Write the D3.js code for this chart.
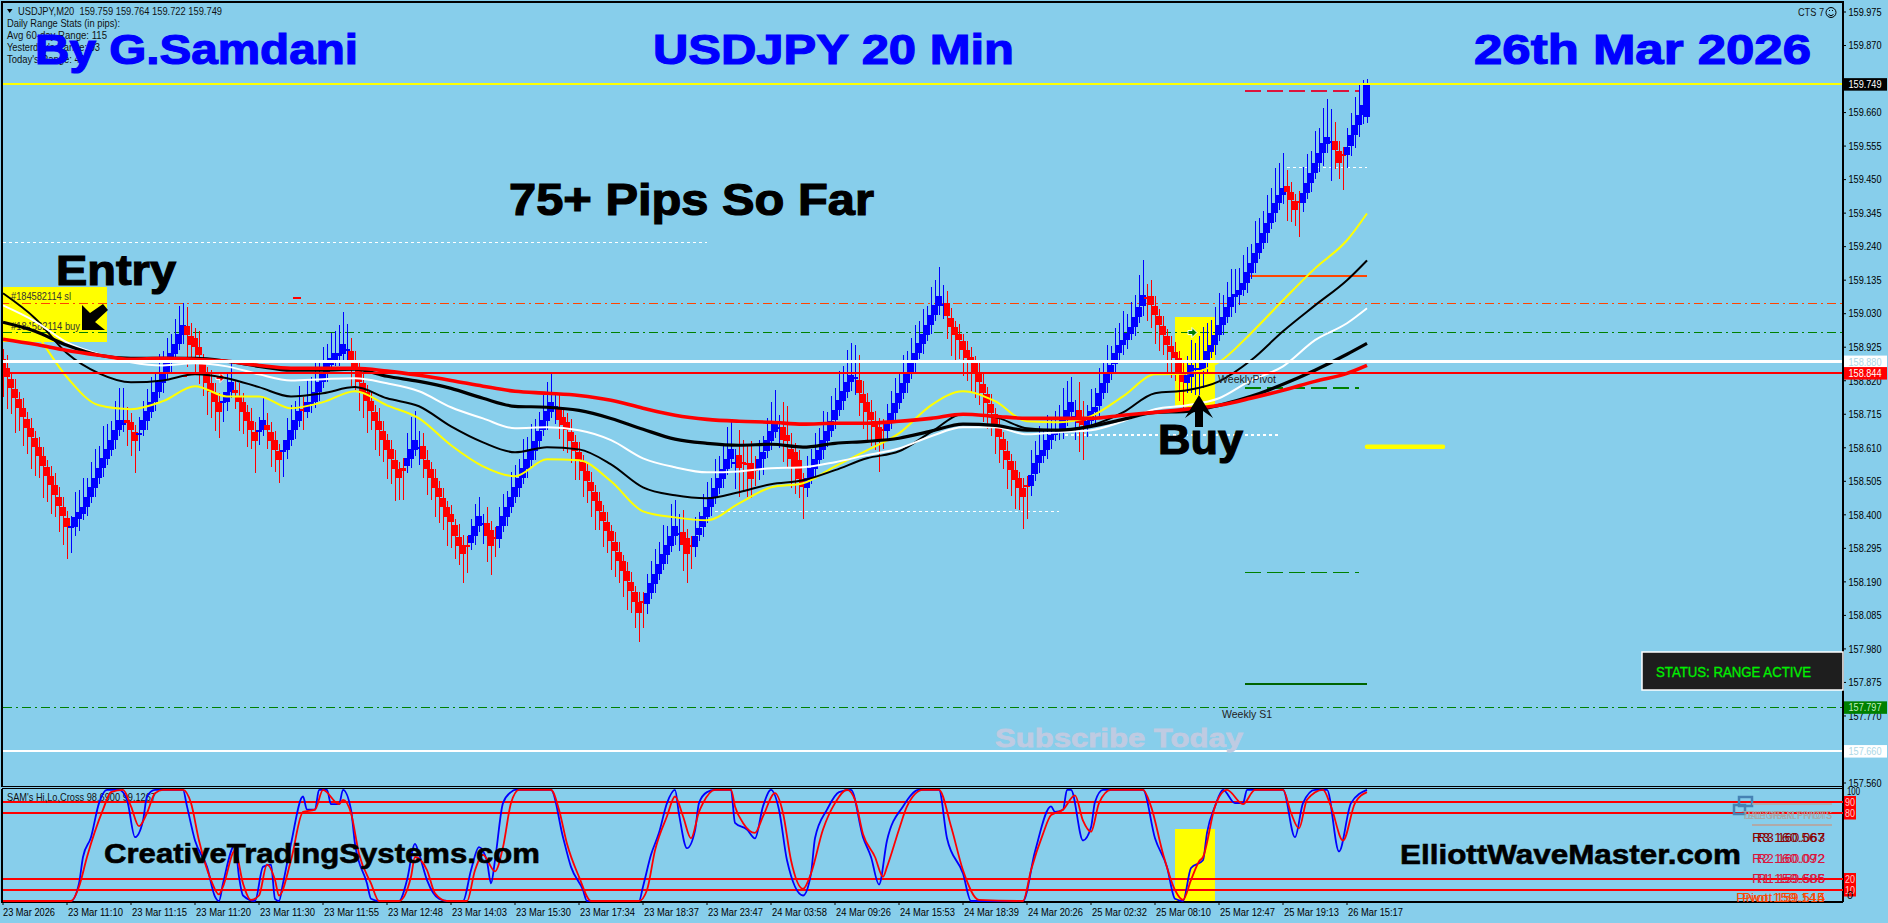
<!DOCTYPE html>
<html><head><meta charset="utf-8">
<style>html,body{margin:0;padding:0;background:#87CEEB;overflow:hidden}svg{display:block}text{font-family:"Liberation Sans",Arial,sans-serif}</style>
<script src="https://cdn.jsdelivr.net/npm/d3@7"></script>
</head><body>
<script>
// ---------- data ----------
const closes=[
158.859,158.831,158.797,158.765,158.734,158.706,158.671,158.643,158.612,158.584,
158.553,158.521,158.493,158.462,158.427,158.396,158.361,158.365,158.393,158.408,
158.424,158.455,158.487,158.515,158.546,158.577,158.606,158.634,158.665,158.696,
158.696,158.687,158.665,158.631,158.656,158.696,158.725,158.753,158.784,158.815,
158.843,158.875,158.906,158.934,158.965,158.994,158.962,158.931,158.925,158.900,
158.843,158.812,158.784,158.753,158.722,158.756,158.784,158.815,158.781,158.753,
158.722,158.693,158.665,158.631,158.665,158.696,158.665,158.631,158.603,158.571,
158.603,158.634,158.665,158.696,158.725,158.725,158.753,158.753,158.784,158.815,
158.847,158.875,158.890,158.906,158.906,158.934,158.918,158.884,158.862,158.815,
158.784,158.756,158.725,158.693,158.665,158.634,158.603,158.575,158.543,158.515,
158.537,158.577,158.606,158.634,158.612,158.575,158.543,158.515,158.484,158.455,
158.424,158.393,158.377,158.333,158.302,158.277,158.299,158.336,158.365,158.396,
158.374,158.333,158.302,158.327,158.365,158.396,158.424,158.455,158.487,158.515,
158.546,158.575,158.603,158.631,158.662,158.696,158.725,158.753,158.740,158.696,
158.681,158.665,158.631,158.599,158.568,158.537,158.506,158.474,158.443,158.412,
158.380,158.349,158.318,158.286,158.255,158.224,158.193,158.161,158.127,158.092,
158.124,158.155,158.186,158.214,158.246,158.277,158.305,158.333,158.365,158.343,
158.305,158.277,158.299,158.333,158.358,158.396,158.424,158.455,158.484,158.515,
158.543,158.575,158.606,158.565,158.546,158.559,158.556,158.512,158.540,158.575,
158.596,158.634,158.662,158.690,158.674,158.634,158.631,158.575,158.546,158.512,
158.487,158.515,158.546,158.575,158.603,158.634,158.662,158.693,158.728,158.759,
158.787,158.815,158.837,158.831,158.781,158.750,158.722,158.696,158.674,158.634,
158.665,158.687,158.718,158.750,158.781,158.812,158.843,158.875,158.906,158.937,
158.965,158.994,159.025,159.056,159.085,159.059,159.022,158.987,158.962,158.947,
158.915,158.890,158.875,158.847,158.815,158.781,158.750,158.718,158.681,158.643,
158.603,158.571,158.540,158.509,158.484,158.455,158.487,158.524,158.562,158.587,
158.603,158.634,158.650,158.656,158.665,158.696,158.728,158.753,158.709,158.687,
158.681,158.693,158.725,158.737,158.781,158.812,158.843,158.868,158.906,158.931,
158.947,158.969,158.987,159.019,159.050,159.088,159.078,159.056,159.025,158.994,
158.962,158.931,158.909,158.890,158.847,158.815,158.837,158.868,158.859,158.859,
158.878,158.912,158.931,158.962,158.994,159.019,159.050,159.081,159.091,159.103,
159.125,159.160,159.188,159.219,159.251,159.282,159.313,159.344,159.376,159.401,
159.423,159.411,159.386,159.354,159.379,159.408,159.439,159.470,159.501,159.533,
159.564,159.583,159.570,159.542,159.501,159.526,159.552,159.589,159.620,159.652,
159.683,159.746];
const bodyPips=[
-3,-3,-3,-3,-3,-3,-3,-3,-3,-3,
-3,-3,-3,-3,-3,-3,-3,.5,3,2,
2,3,3,3,3,3,3,3,3,3,
1.5,-1,-2.5,-3,.5,3,3,3,3,3,
3,3,3,3,3,3,-3,-3,-3,-2.5,
-3,-3,-3,-3,-3,.5,3,3,-1,-2,
-3,-3,-3,-3,.5,3,-1.5,-3,-3,-3,
.5,3,3,3,3,-.5,3,.5,3,3,
3,3,2,2,1,3,.5,-3,-2,-4,
-3,-3,-3,-3,-3,-3,-3,-3,-3,-3,
-1,2.5,3,3,.5,-4,-3,-3,-3,-3,
-3,-3,-2.5,-3.5,-3,-3,-.5,2.5,3,3,
.5,-4,-5,-.5,4,3,3,3,3,3,
3,3,3,3,3,3,3,3,.5,-3.5,
-2.5,-2.5,-3,-3,-3,-3,-3,-3,-3,-3,
-3,-3,-3,-3,-3,-3,-3,-3,-3,-3.5,
-.5,3.5,3,3,3,3,3,3,3,.5,
-4,-5,-.5,3.5,2,3.5,3,3,3,3,
3,3,3,.5,-4,-.5,-.5,-5,-.5,3.5,
2,3.5,3,3,.5,-4,-2,-3,-5,-6,
-2.5,3,3,3,3,3,3,3,3,3,
3,3,2,.5,-4,-3,-3,-2.5,-2,-4,
-.5,2.5,3,3,3,3,3,3,3,3,
3,3,3,3,3,.5,-4,-3,-2.5,-2,
-3,-2.5,-2,-3,-3,-3,-3,-3,-3.5,-3.5,
-3.5,-3,-3,-3,-3,-3,-.5,3.5,3.5,2.5,
2,3,1.5,.5,1,3,3,3,.5,-4,
-1.5,2,3,1.5,4,3,3,2.5,3.5,2.5,
1.5,2,2,3,3,3.5,-.5,-3,-3,-3,
-3,-3,-2,-2,-4.5,-3,2.5,3.5,.5,.5,
2,3.5,2,3,3,2.5,3,3,1,1.5,
2,3.5,3,3,3,3,3,3,3,2.5,
2,-2,-2.5,-3,-.5,3,3,3,3,3,
3,2,.5,-3,-4,-.5,2.5,3.5,3,3,
3,10];
const wickUpPips=[
3,4,2,3,2,3,2,3,2,3,
3,2,3,4,3,3,2,3,8,7,
9,6,8,9,7,10,8,6,9,10,
10,4,3,2,5,6,7,8,6,9,
7,8,6,8,9,7,6,4,3,5,
3,2,4,3,3,3,6,7,3,4,
3,2,4,3,4,7,4,3,3,2,
3,7,8,6,8,4,7,8,9,7,
8,6,8,7,9,10,8,4,3,2,
3,2,3,2,4,3,2,3,3,2,
3,8,10,9,5,4,3,2,3,2,
3,2,3,2,4,3,3,5,7,6,
3,5,3,3,6,7,5,8,7,6,
9,7,8,7,6,8,9,9,4,5,
3,3,4,2,3,2,3,3,2,3,
2,3,2,3,3,2,3,3,2,3,
3,6,7,8,7,9,6,10,8,6,
7,3,3,6,5,7,8,6,9,7,
8,10,9,4,8,7,6,7,4,6,
5,7,9,10,4,8,9,5,3,3,
2,7,6,8,7,9,6,8,7,9,
8,10,10,10,8,4,3,4,3,3,
3,6,7,8,6,9,7,8,9,7,
8,6,9,8,9,6,4,3,2,3,
2,3,3,2,4,3,2,3,2,3,
2,3,2,3,2,3,3,8,7,9,
6,8,5,7,8,10,9,8,5,9,
6,5,7,6,8,7,9,6,8,7,
9,6,8,7,10,11,4,5,3,2,
3,2,3,3,2,3,6,8,8,10,
11,9,8,9,10,7,8,9,8,7,
9,8,6,10,8,7,9,8,11,10,
11,5,3,2,3,8,9,7,10,8,
11,12,10,6,3,2,6,7,9,10,
8,2];
const wickDownPips=[
9,10,8,11,7,9,8,10,9,7,
10,8,9,7,8,9,10,8,3,4,
2,3,2,3,2,3,2,2,3,2,
2,7,8,10,5,2,3,2,3,2,
3,2,3,3,2,3,10,6,8,9,
7,10,8,9,8,6,3,2,5,9,
7,8,6,10,4,2,6,8,7,7,
8,3,2,3,2,6,2,3,2,3,
2,3,2,2,3,2,3,8,7,9,
8,10,6,9,8,7,9,8,10,7,
9,2,3,2,5,6,8,7,9,8,
7,9,8,7,6,9,8,2,3,2,
6,8,9,6,3,2,3,2,2,3,
2,3,2,3,2,2,3,2,5,6,
8,7,7,9,6,8,7,8,9,6,
8,7,9,8,7,8,9,7,8,9,
8,3,2,3,2,2,3,2,3,5,
8,9,7,3,2,3,2,3,2,2,
3,2,3,8,9,8,10,6,5,3,
5,2,3,2,6,7,8,9,8,6,
10,3,2,3,2,3,2,2,3,2,
3,2,3,5,7,8,9,8,7,10,
6,3,2,3,2,2,3,2,3,2,
3,2,3,2,3,4,7,9,8,6,
8,7,9,8,7,9,8,7,9,8,
6,9,8,9,7,10,10,3,2,3,
2,3,3,2,2,3,2,2,7,9,
11,3,2,4,3,2,3,2,3,2,
3,3,2,3,2,3,7,7,9,8,
6,9,8,7,9,8,3,5,8,8,
6,3,2,3,2,3,2,3,5,3,
2,3,2,3,2,2,3,2,3,2,
3,9,7,5,11,3,2,3,2,3,
4,3,12,6,5,11,4,3,4,4,
3,2];

const maBars=[0,8,16,24,32,40,48,56,64,72,80,88,96,104,112,120,128,136,144,152,160,168,176,184,192,200,208,216,224,232,240,248,256,264,272,280,288,296,304,312,320,328,336,341];
const maYellow=[159.088,158.972,158.831,158.743,158.731,158.756,158.803,158.771,158.771,158.734,158.753,158.787,158.743,158.702,158.618,158.552,158.521,158.574,158.571,158.505,158.411,158.392,158.383,158.436,158.486,158.499,158.552,158.602,158.655,158.743,158.787,158.756,158.693,158.690,158.709,158.771,158.840,158.843,158.878,158.969,159.072,159.172,159.260,159.344];
const maBlackThin=[159.094,159.016,158.906,158.843,158.815,158.821,158.840,158.828,158.800,158.771,158.781,158.800,158.765,158.740,158.677,158.627,158.596,158.612,158.605,158.558,158.486,158.461,158.452,158.471,158.496,158.508,158.540,158.577,158.599,158.659,158.715,158.706,158.671,158.665,158.680,158.721,158.781,158.790,158.818,158.884,158.975,159.056,159.135,159.197];
const maWhite=[159.056,159.006,158.940,158.903,158.878,158.868,158.875,158.865,158.840,158.821,158.825,158.828,158.812,158.787,158.737,158.702,158.671,158.674,158.665,158.634,158.577,158.549,158.533,158.536,158.546,158.549,158.565,158.587,158.608,158.646,158.674,158.674,158.652,158.659,158.665,158.693,158.731,158.743,158.765,158.821,158.865,158.947,159.000,159.047];
const maBlackThick=[159.003,158.975,158.931,158.900,158.890,158.890,158.890,158.881,158.865,158.853,158.853,158.856,158.834,158.818,158.796,158.765,158.740,158.737,158.727,158.702,158.668,158.637,158.624,158.618,158.621,158.612,158.624,158.630,158.640,158.662,158.684,158.680,158.665,158.665,158.677,158.699,158.721,158.724,158.743,158.771,158.809,158.853,158.903,158.937];
const maRed=[158.950,158.934,158.915,158.900,158.887,158.890,158.887,158.881,158.868,158.859,158.859,158.859,158.850,158.837,158.821,158.803,158.787,158.781,158.774,158.759,158.734,158.712,158.699,158.693,158.690,158.684,158.687,158.687,158.693,158.702,158.715,158.709,158.702,158.702,158.702,158.712,158.721,158.731,158.743,158.765,158.790,158.818,158.843,158.868];

const stochBlue=[[0,0],[17,0],[19,16],[20,40],[22,58],[24,89],[26,101],[29,101],[31,92],[33,58],[35,73],[36,95],[38,101],[45,101],[46,86],[48,55],[51,31],[53,4],[54,0],[55,16],[58,51],[59,22],[60,5],[63,0],[65,31],[67,33],[68,2],[69,0],[70,16],[72,52],[75,95],[76,83],[78,83],[79,101],[81,101],[82,88],[84,88],[85,101],[87,83],[88,52],[91,16],[92,2],[94,0],[99,0],[101,19],[103,52],[104,43],[106,19],[109,2],[111,0],[115,0],[117,28],[119,49],[121,36],[122,16],[123,37],[125,89],[127,99],[128,101],[137,101],[140,58],[142,31],[145,10],[146,0],[159,0],[160,13],[162,42],[164,62],[166,89],[168,101],[169,79],[171,48],[173,64],[174,89],[176,99],[178,101],[182,101],[183,71],[186,65],[188,57],[190,86],[192,101],[194,83],[196,37],[200,5],[202,25],[203,57],[206,83],[209,99],[212,101],[215,58],[217,40],[219,15],[221,55],[225,86],[229,101],[234,101],[236,57],[240,25],[242,0],[255,0],[258,45],[262,86],[263,81],[265,83],[266,101],[267,101],[270,55],[272,67],[273,90],[275,101],[285,101],[288,57],[291,31],[293,2],[295,0],[297,30],[300,37],[301,62],[303,86],[305,101],[308,89],[310,89],[311,101],[320,101],[323,58],[325,89],[328,101],[331,101],[334,45],[337,89],[341,101]];
const stochRed=[[0,0],[17,0],[19,13],[21,40],[25,83],[27,99],[30,101],[32,86],[34,68],[36,80],[38,98],[40,101],[45,101],[47,89],[49,55],[52,19],[54,6],[55,13],[58,46],[60,16],[62,1],[64,5],[66,33],[68,19],[69,5],[72,37],[75,81],[78,83],[80,101],[84,88],[85,92],[87,80],[89,43],[92,16],[94,0],[99,0],[102,22],[103,40],[106,28],[108,7],[111,0],[116,0],[118,28],[120,42],[123,27],[125,49],[127,89],[129,101],[137,101],[139,83],[141,52],[144,22],[147,0],[159,0],[161,10],[163,46],[166,77],[168,95],[170,77],[172,57],[174,81],[175,89],[178,101],[182,101],[183,86],[185,71],[188,62],[190,77],[193,98],[195,80],[197,37],[200,11],[202,25],[205,65],[208,89],[211,101],[213,92],[215,61],[218,40],[220,22],[221,31],[224,65],[226,86],[230,101],[234,101],[237,68],[240,28],[244,1],[255,0],[257,28],[260,61],[262,78],[265,83],[268,96],[270,73],[272,63],[274,89],[277,101],[285,101],[287,86],[290,43],[293,10],[295,1],[297,19],[299,36],[300,40],[303,86],[306,101],[310,88],[313,101],[320,101],[322,80],[324,66],[326,92],[330,101],[332,86],[335,55],[338,89],[341,99]];
const stochLevels=[90,80,20,10];

const priceTicks=[159.975,159.870,159.660,159.555,159.450,159.345,159.240,159.135,159.030,158.925,158.820,158.715,158.610,158.505,158.400,158.295,158.190,158.085,157.980,157.875,157.770,157.560];
const timeLabels=["23 Mar 2026","23 Mar 11:10","23 Mar 11:15","23 Mar 11:20","23 Mar 11:30","23 Mar 11:55","23 Mar 12:48","23 Mar 14:03","23 Mar 15:30","23 Mar 17:34","23 Mar 18:37","23 Mar 23:47","24 Mar 03:58","24 Mar 09:26","24 Mar 15:53","24 Mar 18:39","24 Mar 20:26","25 Mar 02:32","25 Mar 08:10","25 Mar 12:47","25 Mar 19:13","26 Mar 15:17"];
const barsPerTick=16;

const bid=159.749, resistWhite=158.880, bidRed=158.844, slLevel=159.062, buyLevel=158.971, s1Level=157.797, lowWhite=157.660;

// ---------- layout ----------
const W=1888,H=923,LEFT=2,RIGHT=1843,TOP=2,MAIN_B=786.5,SUB_T=788.7,SUB_B=902;
const BG="#87CEEB";
const x=d3.scaleLinear().domain([0,341]).range([3,1367]);
const y=d3.scaleLinear().domain([157.560,159.975]).range([783,12]);
const ys=d3.scaleLinear().domain([0,100]).range([901,791]);
const svg=d3.select("body").append("svg").attr("width",W).attr("height",H).attr("viewBox",`0 0 ${W} ${H}`);
svg.append("rect").attr("width",W).attr("height",H).attr("fill",BG);
svg.append("clipPath").attr("id","plot").append("rect").attr("x",3).attr("y",3).attr("width",RIGHT-3).attr("height",MAIN_B-3);

function T(str,px,base,len,o={}){
  const t=svg.append("text").attr("x",px).attr("y",base).text(str)
    .attr("font-size",o.size||11).attr("font-weight",o.weight||"normal").attr("fill",o.fill||"#000");
  if(len) t.attr("textLength",len).attr("lengthAdjust","spacingAndGlyphs");
  if(o.stroke) t.attr("stroke",o.fill||"#000").attr("stroke-width",o.stroke);
  return t;
}
function box(a,b,c,d,fill){svg.append("rect").attr("x",a).attr("y",b).attr("width",c-a).attr("height",d-b).attr("fill",fill);}
function hseg(price,i0,i1,color,w,dash){
  const l=svg.append("line").attr("x1",x(i0)).attr("x2",i1===null?RIGHT:x(i1)).attr("y1",y(price)).attr("y2",y(price))
    .attr("stroke",color).attr("stroke-width",w).attr("shape-rendering","crispEdges");
  if(dash) l.attr("stroke-dasharray",dash);
  return l;
}

// yellow highlight zones
box(3,287,107,342,"#FFFF00");
box(1175,317,1215,407,"#FFFF00");
box(1175,829,1215,901,"#FFFF00");

// trade labels under the lines
T("#184582114 sl",11,300,60,{fill:"#333",size:11});
T("#184582114 buy",11,330,69,{fill:"#333",size:11});

// horizontal price levels
hseg(159.253,0,176,"#fff",1.2,"3,3");
hseg(158.411,178,264,"#fff",1.2,"3,3");
hseg(158.650,265.5,319,"#fff",1.2,"3,3");
hseg(159.489,321,341,"#fff",1.2,"3,3");
hseg(slLevel,0,null,"#FF4500",1.2,"9,4,2,4");
hseg(buyLevel,0,null,"#008000",1.6,"9,4,2,4");
hseg(s1Level,0,null,"#008000",1.2,"9,4,2,4");
hseg(159.727,310.5,339,"#DC143C",1.5,"16,6");
hseg(159.148,310.5,341,"#FF4500",2.4);
hseg(158.797,310.5,339,"#008000",1.5,"16,6");
hseg(158.220,310.5,339,"#008000",1.5,"16,6");
hseg(157.870,310.5,341,"#006400",2.6);
svg.append("line").attr("x1",x(341)).attr("x2",x(360)).attr("y1",y(158.613)).attr("y2",y(158.613))
  .attr("stroke","#FFFF00").attr("stroke-width",4.5).attr("stroke-linecap","round");

// candles
const bars=closes.map((c,i)=>{
  const o=c-bodyPips[i]/100;
  return {i,o,c,h:Math.max(o,c)+wickUpPips[i]/100,l:Math.min(o,c)-wickDownPips[i]/100,up:bodyPips[i]>0};
});
const gC=svg.append("g").attr("shape-rendering","crispEdges").attr("clip-path","url(#plot)");
gC.selectAll("line").data(bars).join("line")
  .attr("x1",d=>x(d.i)).attr("x2",d=>x(d.i)).attr("y1",d=>y(d.h)).attr("y2",d=>y(d.l))
  .attr("stroke",d=>d.up?"#0000FF":"#FF0000").attr("stroke-width",1);
gC.selectAll("rect").data(bars).join("rect")
  .attr("x",d=>x(d.i)-3).attr("width",6)
  .attr("y",d=>y(Math.max(d.o,d.c))).attr("height",d=>Math.max(2,Math.abs(y(d.o)-y(d.c))))
  .attr("fill",d=>d.up?"#0000FF":"#FF0000");

// small markers
hseg(159.079,72.5,74.5,"#FF0000",1.5);
hseg(158.833,44,46,"#FF0000",1.5);
function marker(ix,price,color){
  const g=svg.append("g").attr("transform",`translate(${x(ix)+1},${y(price)})`);
  g.append("path").attr("d","M-4,-2L0,-2L0,-5L5,0L0,5L0,2L-4,2Z").attr("fill",color).attr("stroke","#fff").attr("stroke-width",1);
}
marker(54,158.830,"#FF0000");
marker(297,158.971,"#008000");

// moving averages
const ln=d3.line().x(d=>x(d[0])).y(d=>y(d[1])).curve(d3.curveMonotoneX);
[[maYellow,"#FFFF00",2],[maBlackThin,"#000",2],[maWhite,"#fff",2],[maBlackThick,"#000",3.2],[maRed,"#FF0000",3.6]].forEach(([v,col,w])=>{
  svg.append("path").attr("d",ln(v.map((p,k)=>[maBars[k],p]))).attr("fill","none").attr("stroke",col).attr("stroke-width",w).attr("stroke-linejoin","round");
});

// solid levels on top
hseg(bid,0,null,"#FFFF00",1.6);
hseg(resistWhite,0,null,"#fff",2.4);
hseg(bidRed,0,null,"#FF0000",1.4);
hseg(lowWhite,0,null,"#fff",2.6);

// panel frame
const frame=svg.append("g").attr("fill","none").attr("stroke","#000").attr("stroke-width",1.4).attr("shape-rendering","crispEdges");
frame.append("path").attr("d",`M${LEFT},${MAIN_B}V${TOP}H${RIGHT}V${SUB_B}`);
frame.append("path").attr("d",`M${LEFT},${MAIN_B}H${RIGHT}M${LEFT},${SUB_T}H${RIGHT}M${LEFT},${SUB_T}V${SUB_B}H${RIGHT}`);

// price axis
priceTicks.forEach(p=>{
  svg.append("line").attr("x1",RIGHT).attr("x2",RIGHT+3).attr("y1",y(p)).attr("y2",y(p)).attr("stroke","#000").attr("stroke-width",1);
  T(d3.format(".3f")(p),1848.5,y(p)+3.8,33,{size:10.5});
});
function priceTag(p,bg,fg){
  box(RIGHT+1,y(p)-6,1887,y(p)+6.5,bg);
  T(d3.format(".3f")(p),1848.5,y(p)+4,33,{size:10.5,fill:fg});
}
priceTag(bid,"#000","#fff");
priceTag(resistWhite,"#fff","#ADD8E6");
priceTag(bidRed,"#FF0000","#fff");
priceTag(s1Level,"#008000","#BFEFBF");
priceTag(lowWhite,"#fff","#ADD8E6");

// oscillator
stochLevels.forEach(v=>{
  svg.append("line").attr("x1",LEFT+1).attr("x2",RIGHT).attr("y1",ys(v)).attr("y2",ys(v)).attr("stroke","#FF0000").attr("stroke-width",(v===80||v===10)?1.6:1.2).attr("shape-rendering","crispEdges");
  box(1844,ys(v)-6,1856,ys(v)+6.5,"#FF0000");
  T(String(v),1845,ys(v)+4,10,{size:10,fill:"#FFC8C8"});
});
T("100",1847,795,13,{size:10});
T("0",1847,899,6,{size:10});
T("SAM's Hi,Lo,Cross 98.6900 99.1267",7,801,149,{size:11,fill:"#111"});
const sl=d3.line().x(d=>x(d[0])).y(d=>ys(d[1])).curve(d3.curveMonotoneX);
svg.append("path").attr("d",sl(stochBlue)).attr("fill","none").attr("stroke","#0000FF").attr("stroke-width",1.8);
svg.append("path").attr("d",sl(stochRed)).attr("fill","none").attr("stroke","#FF0000").attr("stroke-width",1.8);

// time axis
timeLabels.forEach((s,k)=>{
  const tx=x(k*barsPerTick);
  svg.append("line").attr("x1",tx).attr("x2",tx).attr("y1",SUB_B).attr("y2",SUB_B+3).attr("stroke","#000").attr("stroke-width",1);
  T(s,tx+(k===0?0:1),915.5,k===0?52:55,{size:10.5});
});

// header text
svg.append("path").attr("d","M7,9L12.5,9L9.7,13Z").attr("fill","#000");
T("USDJPY,M20  159.759 159.764 159.722 159.749",18,14.5,204,{size:11,fill:"#111"}).attr("xml:space","preserve");
T("Daily Range Stats (in pips):",7,27,113,{size:11,fill:"#111"});
T("Avg 60-day Range: 115",7,39,100,{size:11,fill:"#111"});
T("Yesterday's Range: 93",7,51,93,{size:11,fill:"#111"});
T("Today's Range: 49",7,63,78,{size:11,fill:"#111"});
T("CTS 7",1798,15.5,26,{size:11,fill:"#111"});
svg.append("circle").attr("cx",1831).attr("cy",12.5).attr("r",5).attr("fill","none").attr("stroke","#000");
svg.append("path").attr("d","M1828.5,14.5Q1831,17 1833.5,14.5M1829,10.5h1M1832,10.5h1").attr("fill","none").attr("stroke","#000");

// titles
const blue="#0000FF", big={size:43,weight:"bold",stroke:1.2};
T("By G.Samdani",35,64,323,{...big,fill:blue});
T("USDJPY 20 Min",653,64,361,{...big,fill:blue});
T("26th Mar 2026",1474,64,337,{...big,fill:blue});
T("75+ Pips So Far",509,215,365,{...big,size:44});
T("Entry",56,285,120,{...big});
T("Buy",1158,454,85,{...big});
T("Subscribe Today",995,747,248,{size:26,weight:"bold",fill:"#BFCBE2",stroke:.8});
T("CreativeTradingSystems.com",104,863,436,{size:28,weight:"bold",stroke:.6});
T("ElliottWaveMaster.com",1400,864,341,{size:28,weight:"bold",stroke:.6});
T("WeeklyPivot",1218,383,58,{size:11,fill:"#222"});
T("Weekly S1",1222,718,50,{size:11,fill:"#222"});

// arrows
svg.append("path").attr("d","M82,330L82,305L90,313L103,304L108,310L95,322L105,330Z").attr("fill","#000");
svg.append("path").attr("d","M1199,395L1213,418L1203,411L1203,427L1195,427L1195,411L1185,418Z").attr("fill","#000");

// status box
svg.append("rect").attr("x",1642).attr("y",652).attr("width",201).attr("height",38).attr("fill","#1E1E1E").attr("stroke","#fff").attr("stroke-width",1.5);
T("STATUS: RANGE ACTIVE",1656,677,155,{size:15,fill:"#00F000",stroke:.3});

// pivot panel
svg.append("rect").attr("x",1739).attr("y",797).attr("width",13).attr("height",9).attr("fill","none").attr("stroke","#4682B4").attr("stroke-width",2.5);
svg.append("rect").attr("x",1734).attr("y",805).attr("width",11).attr("height",9).attr("fill","none").attr("stroke","#4682B4").attr("stroke-width",2.5);
svg.append("line").attr("x1",1752).attr("x2",1832).attr("y1",804).attr("y2",804).attr("stroke","#B0AAA8").attr("stroke-width",1.5);
svg.append("line").attr("x1",1752).attr("x2",1832).attr("y1",825).attr("y2",825).attr("stroke","#B0AAA8").attr("stroke-width",2);
T("TELEGRAM PIVOTS",1742,819,90,{size:10,fill:"#A8A8A8"});
T("DAILY WEEKLY PIVOTS",1745,819,87,{size:10,fill:"#A8A8A8"});
[["R3 160.567","R3 160.063",842,"#8B0000",1752,1757,73,68],["R2 160.092","R2 160.072",863,"#DC143C",1752,1757,73,68],["R1 159.685","R1 159.586",883,"#DC143C",1752,1757,73,68],["Pivot 159.145","Pivot 159.514",902,"#FF4500",1736,1742,89,83]]
 .forEach(([a,b,base,col,x1,x2,l1,l2])=>{T(a,x1,base,l1,{size:12,fill:col});T(b,x2,base,l2,{size:12,fill:col});});
</script>
</body></html>
